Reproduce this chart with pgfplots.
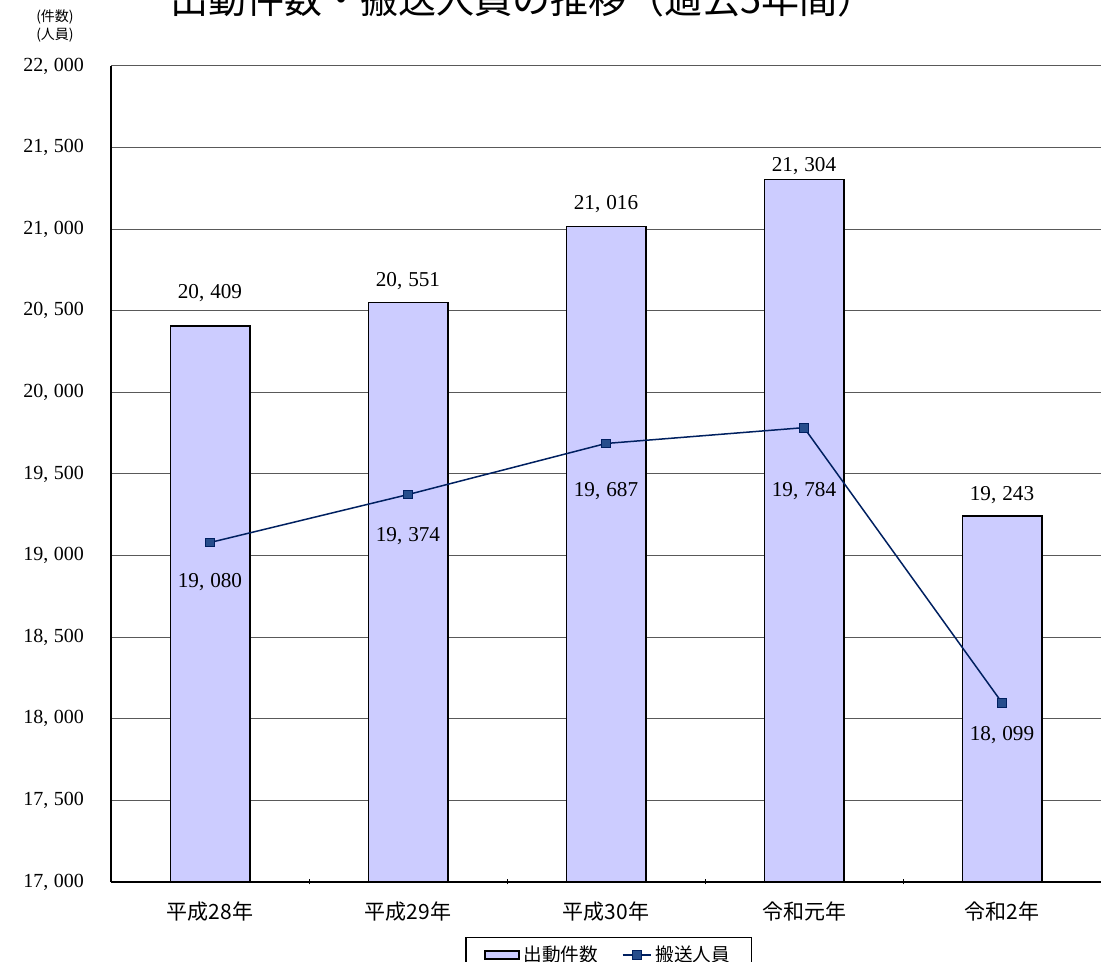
\documentclass[border=0pt]{standalone}
\usepackage{fontspec}
\setmainfont{Liberation Serif}
\newfontfamily\jpfont{Noto Sans CJK JP}
\usepackage{pgfplots}
\usepackage{pgfplotstable}
\pgfplotsset{compat=1.18}

\definecolor{barfill}{HTML}{CCCCFF}
\definecolor{linecol}{HTML}{002060}
\definecolor{markfill}{HTML}{264D8C}

\pgfplotsset{
  barlegend/.style={legend image code/.code={%
    \draw[fill=barfill,draw=black,line width=0.75pt] (0pt,-2pt) rectangle (17pt,2pt);}},
  linelegend/.style={legend image code/.code={%
    \draw[linecol,line width=0.75pt] (0pt,0pt) -- (14pt,0pt);
    \draw[draw=linecol,fill=markfill,line width=0.5pt] (4.8pt,-2.2pt) rectangle (9.2pt,2.2pt);}},
}

% x, value, label offset (pt)
\pgfplotstableread{
x y dy
0 20409 16.5
1 20551 10.5
2 21016 11
3 21304 6.5
4 19243 10.5
}\dispatches
\pgfplotstableread{
x y dy
0 19080 -20
1 19374 -21
2 19687 -24
3 19784 -31.5
4 18099 -16
}\transported

\begin{document}
\begin{tikzpicture}
\useasboundingbox (0,0) rectangle (550.5pt,481pt);

\node[anchor=base, font=\jpfont\fontsize{19}{22}\selectfont] at (261.5pt,474pt)
  {出動件数・搬送人員の推移（過去5年間）};
\node[font=\jpfont\fontsize{7}{8}\selectfont] at (27.5pt,472.5pt) {(件数)};
\node[font=\jpfont\fontsize{7}{8}\selectfont] at (27.5pt,463.5pt) {(人員)};

\begin{axis}[
    at={(55.5pt,40pt)}, anchor=south west,
    width=495pt, height=408pt, scale only axis,
    xmin=-0.5, xmax=4.5,
    ymin=17000, ymax=22000,
    ytick={17000,17500,...,22000},
    scaled ticks=false,
    /pgf/number format/1000 sep={,\hspace{0.28em}},
    /pgf/number format/assume math mode=true,
    yticklabel style={font=\fontsize{10}{12}\selectfont, xshift=-10pt},
    xtick={0,1,2,3,4},
    xticklabels={平成28年,平成29年,平成30年,令和元年,令和2年},
    xticklabel style={font=\jpfont\fontsize{10.5}{12}\selectfont, yshift=-6.5pt},
    minor xtick={0.5,1.5,2.5,3.5},
    major tick length=0pt,
    minor tick length=2.5pt,
    tick align=inside,
    tick style={black, line width=0.5pt},
    axis x line=bottom, axis y line=left,
    axis line style={-, black, line width=0.6pt},
    ymajorgrids,
    grid style={black!65, line width=0.5pt},
    legend columns=2,
    legend style={at={(0.503,-0.0674)}, anchor=north, draw=black, line width=0.6pt,
      font=\jpfont\fontsize{9.3}{10}\selectfont,
      inner xsep=9pt, inner ysep=2pt,
      /tikz/every even column/.append style={column sep=10pt}},
  ]
  \addplot[ybar, bar width=0.4, fill=barfill, draw=black, line width=0.9pt,
    nodes near coords,
    visualization depends on={\thisrow{dy} \as \dy},
    every node near coord/.append style={anchor=center, yshift=\dy pt,
      font=\fontsize{10.6}{12}\selectfont, black},
    barlegend
  ] table[x=x, y=y] {\dispatches};
  \addlegendentry{出動件数}

  \addplot[color=linecol, line width=0.75pt, mark=square*, mark size=2.2pt,
    mark options={fill=markfill, draw=linecol, line width=0.5pt},
    nodes near coords,
    visualization depends on={\thisrow{dy} \as \dy},
    every node near coord/.append style={anchor=center, yshift=\dy pt,
      font=\fontsize{10.6}{12}\selectfont, black},
    linelegend
  ] table[x=x, y=y] {\transported};
  \addlegendentry{搬送人員}
\end{axis}
\end{tikzpicture}
\end{document}
